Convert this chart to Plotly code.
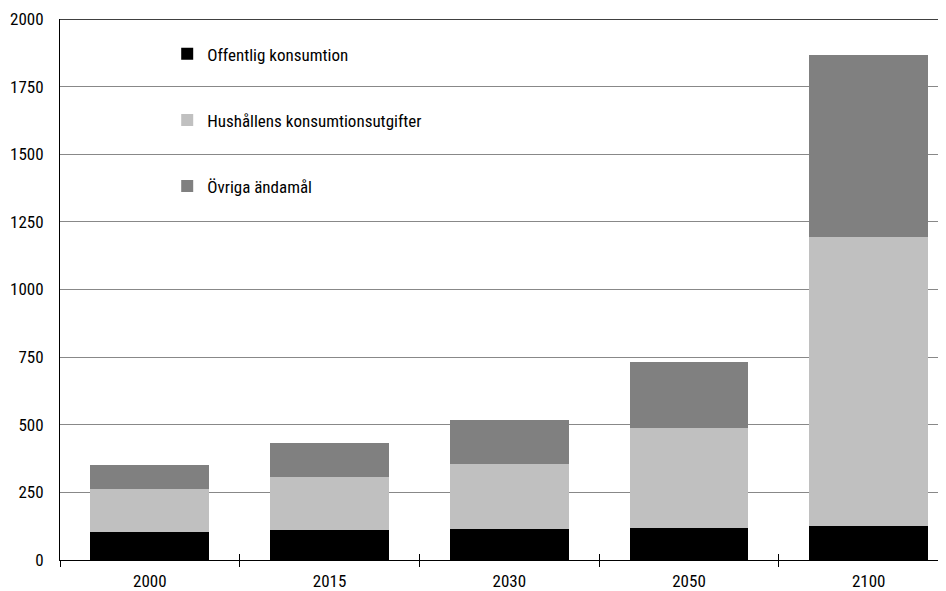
import plotly.graph_objects as go

years = ["2000", "2015", "2030", "2050", "2100"]
offentlig = [105, 112, 116, 120, 126]
hushall = [158, 195, 240, 367, 1067]
ovriga = [87, 127, 161, 245, 675]
ytick_vals = [0, 250, 500, 750, 1000, 1250, 1500, 1750, 2000]

FONT = "Roboto Condensed, Liberation Sans Narrow, DejaVu Sans Condensed, sans-serif"

fig = go.Figure()
series = [
    ("Offentlig konsumtion", offentlig, "#000000"),
    ("Hushållens konsumtionsutgifter", hushall, "#c0c0c0"),
    ("Övriga ändamål", ovriga, "#808080"),
]
for name, vals, col in series:
    fig.add_trace(go.Bar(x=years, y=vals, name=name, legendgroup=name,
                         marker=dict(color=col, line=dict(width=0))))

# invisible helper trace for inside tick marks (cross ticks)
fig.add_trace(go.Scatter(x=years, y=[0] * len(years), xaxis="x2", mode="markers",
                         marker=dict(opacity=0), showlegend=False, hoverinfo="skip"))

xr = [-0.5, 4.43]
fig.update_layout(
    width=938, height=583,
    margin=dict(l=52, r=0, t=11, b=23),
    paper_bgcolor="white", plot_bgcolor="white",
    barmode="stack", bargap=0.338,
    font=dict(family=FONT, size=17, color="#000", weight=400),
    showlegend=True,
    legend=dict(x=0.121, y=0.968, xanchor="left", yanchor="top",
                traceorder="grouped", tracegroupgap=41,
                bgcolor="rgba(0,0,0,0)", font=dict(size=17, weight=400),
                itemwidth=30),
    xaxis=dict(type="category", range=xr, showgrid=False,
               showline=True, linecolor="#000", linewidth=1,
               ticks="outside", ticklen=6, tickcolor="#000", tickwidth=1,
               tickson="boundaries", ticklabelstandoff=6),
    xaxis2=dict(type="category", range=xr, overlaying="x", matches="x",
                showgrid=False, showline=False, showticklabels=False,
                ticks="inside", ticklen=6, tickcolor="#000", tickwidth=1,
                tickson="boundaries"),
    yaxis=dict(range=[0, 2000], tickvals=ytick_vals, showgrid=True,
               gridcolor="#888888", gridwidth=1.2, zeroline=False,
               showline=True, linecolor="#000", linewidth=1,
               ticks="", ticklabelstandoff=12),
    shapes=[dict(type="line", xref="paper", yref="y", x0=0, x1=1, y0=2000, y1=2000,
                 line=dict(color="#000", width=1.5))],
)

fig.write_html("out.html")
